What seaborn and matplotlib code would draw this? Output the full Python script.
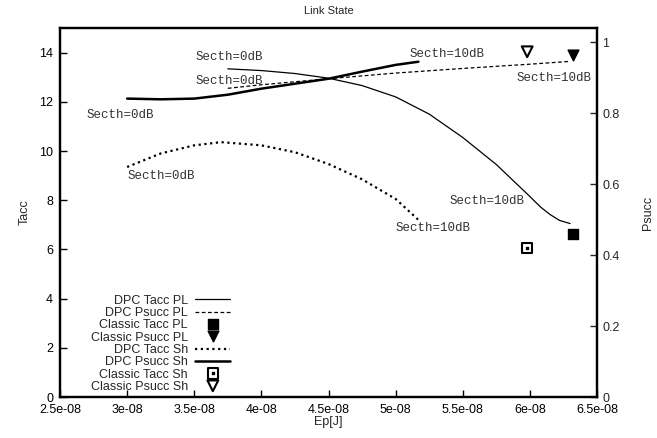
import matplotlib
matplotlib.use('Agg')
import matplotlib.pyplot as plt
import seaborn as sns
from matplotlib.legend_handler import HandlerTuple

# energy per packet (x axis, in J)
ep_tacc_pl = [3.75e-8, 4.0e-8, 4.25e-8, 4.5e-8, 4.75e-8, 5.0e-8, 5.25e-8, 5.5e-8, 5.75e-8, 6.0e-8, 6.08e-8, 6.15e-8, 6.22e-8, 6.3e-8]
dpc_tacc_pl = [13.34, 13.27, 13.15, 12.96, 12.66, 12.2, 11.5, 10.55, 9.45, 8.15, 7.72, 7.42, 7.18, 7.05]

ep_psucc_pl = [3.75e-8, 4.0e-8, 4.5e-8, 5.0e-8, 5.5e-8, 6.0e-8, 6.3e-8]
dpc_psucc_pl = [0.870, 0.880, 0.897, 0.913, 0.926, 0.938, 0.946]

ep_tacc_sh = [3.0e-8, 3.25e-8, 3.5e-8, 3.7e-8, 4.0e-8, 4.25e-8, 4.5e-8, 4.75e-8, 5.0e-8, 5.17e-8]
dpc_tacc_sh = [9.35, 9.9, 10.23, 10.36, 10.23, 9.95, 9.47, 8.85, 8.05, 7.2]

ep_psucc_sh = [3.0e-8, 3.25e-8, 3.5e-8, 3.75e-8, 4.0e-8, 4.25e-8, 4.5e-8, 4.75e-8, 5.0e-8, 5.17e-8]
dpc_psucc_sh = [0.841, 0.839, 0.841, 0.852, 0.869, 0.883, 0.897, 0.917, 0.936, 0.945]

# classic scheme, single points
classic_ep_pl = [6.32e-8]
classic_tacc_pl = [6.62]
classic_psucc_pl = [0.963]
classic_ep_sh = [5.98e-8]
classic_tacc_sh = [6.07]
classic_psucc_sh = [0.973]

# annotations: (x, y on Tacc axis, text)
notes_x = [3.506e-8, 3.506e-8, 2.699e-8, 3.004e-8, 5.102e-8, 5.902e-8, 5.405e-8, 5.003e-8]
notes_y = [13.81, 12.84, 11.47, 8.99, 13.95, 12.97, 7.97, 6.87]
notes_txt = ['Secth=0dB', 'Secth=0dB', 'Secth=0dB', 'Secth=0dB',
             'Secth=10dB', 'Secth=10dB', 'Secth=10dB', 'Secth=10dB']

xticks = [2.5e-8, 3.0e-8, 3.5e-8, 4.0e-8, 4.5e-8, 5.0e-8, 5.5e-8, 6.0e-8, 6.5e-8]
xtick_labels = ['2.5e-08', '3e-08', '3.5e-08', '4e-08', '4.5e-08', '5e-08', '5.5e-08', '6e-08', '6.5e-08']
yticks_left = [0, 2, 4, 6, 8, 10, 12, 14]
yticks_right = [0, 0.2, 0.4, 0.6, 0.8, 1]
ytick_right_labels = ['0', '0.2', '0.4', '0.6', '0.8', '1']

sns.set_theme(style='white')
plt.rcParams['font.family'] = ['Liberation Sans', 'DejaVu Sans']

fig = plt.figure(figsize=(6.57, 4.38), dpi=100)
ax = fig.add_subplot(111)
fig.subplots_adjust(left=60 / 657, right=597 / 657, bottom=1 - 397 / 438, top=1 - 28 / 438)
ax2 = ax.twinx()

sns.lineplot(x=ep_tacc_pl, y=dpc_tacc_pl, ax=ax, color='black', linewidth=0.9)
h1 = ax.lines[-1]
sns.lineplot(x=ep_psucc_pl, y=dpc_psucc_pl, ax=ax2, color='black', linewidth=0.9, linestyle=(0, (3, 2)))
h2 = ax2.lines[-1]
sns.lineplot(x=ep_tacc_sh, y=dpc_tacc_sh, ax=ax, color='black', linewidth=1.6, linestyle=(0, (1, 1.6)))
h5 = ax.lines[-1]
sns.lineplot(x=ep_psucc_sh, y=dpc_psucc_sh, ax=ax2, color='black', linewidth=1.8)
h6 = ax2.lines[-1]

h3 = ax.scatter(classic_ep_pl, classic_tacc_pl, marker='s', s=60, color='black', zorder=5)
h4 = ax2.scatter(classic_ep_pl, classic_psucc_pl, marker='v', s=60, color='black', zorder=5)
h7a = ax.scatter(classic_ep_sh, classic_tacc_sh, marker='s', s=55, facecolors='none',
                 edgecolors='black', linewidths=1.5, zorder=5)
h7b = ax.scatter(classic_ep_sh, classic_tacc_sh, marker='s', s=3, color='black', zorder=6)
h8 = ax2.scatter(classic_ep_sh, classic_psucc_sh, marker='v', s=60, facecolors='none',
                 edgecolors='black', linewidths=1.5, zorder=5)

for x, y, t in zip(notes_x, notes_y, notes_txt):
    ax.text(x, y, t, family='Liberation Mono', fontsize=9, color='#333333', ha='left', va='center')

ax.set_xlim(2.5e-8, 6.5e-8)
ax.set_ylim(0, 15)
ax2.set_ylim(0, 1.04)
ax.set_xticks(xticks)
ax.set_xticklabels(xtick_labels)
ax.set_yticks(yticks_left)
ax2.set_yticks(yticks_right)
ax2.set_yticklabels(ytick_right_labels)

ax.tick_params(axis='both', direction='in', length=5, width=1, labelsize=9, pad=5,
               left=True, bottom=True, colors='black')
ax2.tick_params(axis='y', direction='in', length=5, width=1, labelsize=9, pad=4, right=True)
for a in (ax, ax2):
    for s in a.spines.values():
        s.set_color('black')
        s.set_linewidth(1.6)

ax.set_xlabel('Ep[J]', fontsize=9, labelpad=0)
ax.set_ylabel('Tacc', fontsize=9, labelpad=6)
ax2.set_ylabel('Psucc', fontsize=9, labelpad=16)
ax.set_title('Link State', fontsize=8, pad=10)

handles = [h1, h2, h3, h4, h5, h6, (h7a, h7b), h8]
labels = ['DPC Tacc PL', 'DPC Psucc PL', 'Classic Tacc PL', 'Classic Psucc PL',
          'DPC Tacc Sh', 'DPC Psucc Sh', 'Classic Tacc Sh', 'Classic Psucc Sh']
for a in (ax, ax2):
    if a.get_legend() is not None:
        a.get_legend().remove()
leg = ax2.legend(handles, labels, loc='lower left', bbox_to_anchor=(0.043, -0.01), frameon=False,
                 markerfirst=False, fontsize=9, labelspacing=0.03, handlelength=2.8,
                 handletextpad=0.6, borderaxespad=0.2, scatterpoints=1, scatteryoffsets=[0.5],
                 handler_map={tuple: HandlerTuple(ndivide=1, pad=0)})

fig.savefig('out.png', dpi=100)
